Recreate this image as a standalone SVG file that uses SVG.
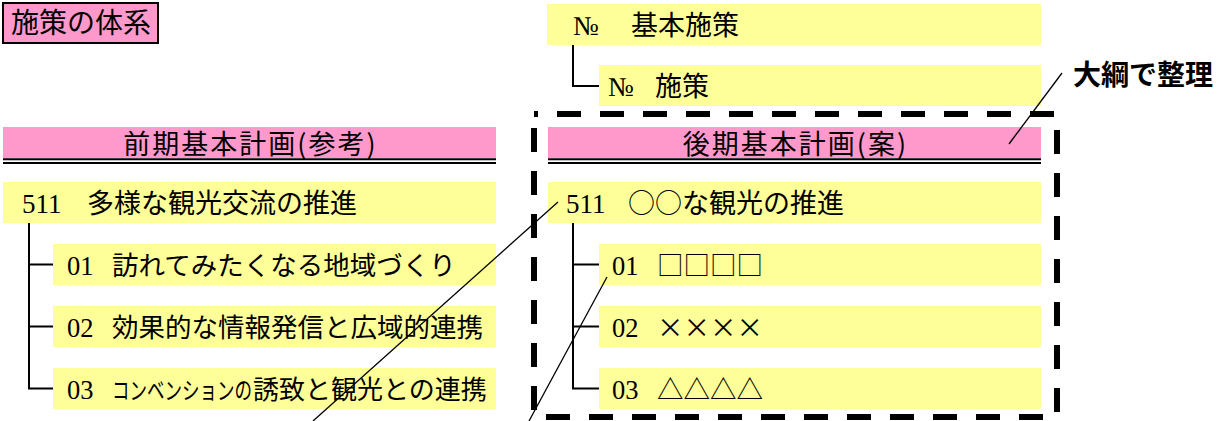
<svg xmlns="http://www.w3.org/2000/svg" width="1224" height="421" viewBox="0 0 1224 421">
<style>
.y{fill:#FFFF99}
.p{fill:#FF99CC}
.m{font-family:"Liberation Serif","Noto Sans CJK JP",serif;fill:#000}
.j{font-family:"Noto Sans CJK JP","Liberation Serif",sans-serif}
.g{font-family:"Noto Sans CJK JP","Liberation Sans",sans-serif;fill:#000}
.h{letter-spacing:2px}
.c{fill:none;stroke:#000;stroke-width:2}
.d{fill:none;stroke:#000;stroke-width:1.3}
.u{stroke:#000;stroke-width:2}
</style>
<rect width="1224" height="421" fill="#fff"/>
<g id="title">
<rect x="3" y="3" width="155" height="40" class="p" stroke="#000" stroke-width="2"/>
<text x="81" y="33" class="g" font-size="28" text-anchor="middle">施策の体系</text>
</g>
<g id="legend-basic">
<rect x="547" y="4" width="494" height="41" class="y"/>
<text class="m" font-size="27" y="34.5"><tspan x="573">№</tspan><tspan x="631" class="j">基本施策</tspan></text>
</g>
<g id="legend-measure">
<rect x="599" y="65" width="442" height="41" class="y"/>
<text class="m" font-size="27" y="95.5"><tspan x="608">№</tspan><tspan x="655" class="j">施策</tspan></text>
</g>
<g id="label-taikou">
<text x="1073" y="85" class="g" font-size="28" font-weight="bold">大綱で整理</text>
</g>
<g id="header-left">
<rect x="3" y="127" width="493" height="31" class="p"/>
<line x1="3" y1="159.3" x2="496" y2="159.3" class="u"/>
<line x1="3" y1="163" x2="496" y2="163" class="u"/>
<text x="250.5" y="154" class="g h" font-size="27" text-anchor="middle">前期基本計画(参考)</text>
</g>
<g id="header-right">
<rect x="548" y="127" width="493" height="31" class="p"/>
<line x1="548" y1="159.3" x2="1041" y2="159.3" class="u"/>
<line x1="548" y1="163" x2="1041" y2="163" class="u"/>
<text x="795.5" y="154" class="g h" font-size="27" text-anchor="middle">後期基本計画(案)</text>
</g>
<g id="left-511">
<rect x="3" y="182" width="493" height="41" class="y"/>
<text class="m" font-size="27" y="212.5"><tspan x="22">511</tspan><tspan x="87" class="j">多様な観光交流の推進</tspan></text>
</g>
<g id="left-01">
<rect x="53" y="244" width="443" height="41" class="y"/>
<text class="m" font-size="26.5" y="274.5"><tspan x="67">01</tspan><tspan x="112" class="j">訪れてみたくなる地域づくり</tspan></text>
</g>
<g id="left-02">
<rect x="53" y="306" width="443" height="41" class="y"/>
<text class="m" font-size="26.5" y="336.5"><tspan x="67">02</tspan><tspan x="112" class="j">効果的な情報発信と広域的連携</tspan></text>
</g>
<g id="left-03">
<rect x="53" y="368" width="443" height="41" class="y"/>
<text class="m" font-size="26.5" y="398.5"><tspan x="67">03</tspan></text>
<text class="m j" font-size="24" transform="translate(112 398.5) scale(0.73 1)">コンベンションの</text>
<text class="m j" font-size="26" x="253" y="398.5">誘致と観光との連携</text>
</g>
<g id="right-511">
<rect x="548" y="182" width="493" height="41" class="y"/>
<text class="m" font-size="27" y="212.5"><tspan x="566">511</tspan><tspan x="628" class="j">○○な観光の推進</tspan></text>
</g>
<g id="right-01">
<rect x="599" y="244" width="442" height="41" class="y"/>
<text class="m" font-size="26.5" y="274.5"><tspan x="612">01</tspan><tspan x="657" class="j">□□□□</tspan></text>
</g>
<g id="right-02">
<rect x="599" y="306" width="442" height="41" class="y"/>
<text class="m" font-size="26.5" y="336.5"><tspan x="612">02</tspan><tspan x="657" class="j">××××</tspan></text>
</g>
<g id="right-03">
<rect x="599" y="368" width="442" height="41" class="y"/>
<text class="m" font-size="26.5" y="398.5"><tspan x="612">03</tspan><tspan x="657" class="j">△△△△</tspan></text>
</g>
<g id="outline-box">
<rect x="534" y="114" width="523" height="303" fill="none" stroke="#000" stroke-width="6" stroke-dasharray="24 19" stroke-dashoffset="20"/>
</g>
<g id="connectors">
<path class="c" d="M573 45 V86 H599"/>
<path class="c" d="M29 223 V388.5 H53 M29 264.5 H53 M29 326.5 H53"/>
<path class="c" d="M573 223 V388.5 H599 M573 264.5 H599 M573 326.5 H599"/>
<line class="d" x1="558" y1="202" x2="313" y2="421"/>
<line class="d" x1="607" y1="277" x2="529" y2="421"/>
<line class="d" x1="1062" y1="73" x2="1009" y2="144"/>
</g>
</svg>
